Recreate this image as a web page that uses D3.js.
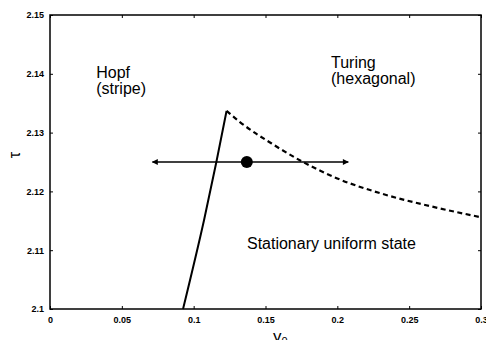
<!DOCTYPE html>
<html><head><meta charset="utf-8">
<script src="https://cdn.jsdelivr.net/npm/d3@7"></script>
<style>
html,body{margin:0;padding:0;background:#fff;}
svg{display:block;font-family:"Liberation Sans",Arial,sans-serif;}
</style></head>
<body>
<script>
// Data
const xTicks = [0, 0.05, 0.1, 0.15, 0.2, 0.25, 0.3];
const xTickLabels = ["0", "0.05", "0.1", "0.15", "0.2", "0.25", "0.3"];
const yTicks = [2.1, 2.11, 2.12, 2.13, 2.14, 2.15];
const yTickLabels = ["2.1", "2.11", "2.12", "2.13", "2.14", "2.15"];
const hopfGamma = [0.0926, 0.1072, 0.1158, 0.1229];
const hopfTau   = [2.1, 2.1151, 2.125, 2.1337];
const turingGamma = [0.1229, 0.1322, 0.1565, 0.1761, 0.2000, 0.2297, 0.2645, 0.3];
const turingTau   = [2.1337, 2.1318, 2.1278, 2.1250, 2.1222, 2.1197, 2.1175, 2.1156];
const arrowGamma = [0.0713, 0.2076];
const arrowTau = [2.125, 2.125];
const pointGamma = [0.137];
const pointTau = [2.125];
const regionLabels = [
  {lines: ["Hopf", "(stripe)"], g: 0.0322, t: 2.1393},
  {lines: ["Turing", "(hexagonal)"], g: 0.1956, t: 2.1410},
  {lines: ["Stationary uniform state"], g: 0.1371, t: 2.1102}
];

const W = 486, H = 340;
const m = {left: 50, right: 5, top: 15, bottom: 31};
const svg = d3.select("body").append("svg").attr("width", W).attr("height", H);

const x = d3.scaleLinear().domain([0, 0.3]).range([m.left, W - m.right]);
const y = d3.scaleLinear().domain([2.1, 2.15]).range([H - m.bottom, m.top]);

// Frame
svg.append("rect").attr("x", x(0)).attr("y", y(2.15))
  .attr("width", x(0.3) - x(0)).attr("height", y(2.1) - y(2.15))
  .attr("fill", "none").attr("stroke", "#000").attr("stroke-width", 1.5);

// Axes (inward ticks)
const fmtX = (d, i) => xTickLabels[i];
const fmtY = (d, i) => yTickLabels[i];
const axB = svg.append("g").attr("transform", `translate(0,${y(2.1)})`)
  .call(d3.axisBottom(x).tickValues(xTicks).tickFormat(fmtX).tickSizeInner(-3).tickSizeOuter(0).tickPadding(8));
const axT = svg.append("g").attr("transform", `translate(0,${y(2.15)})`)
  .call(d3.axisTop(x).tickValues(xTicks).tickFormat("").tickSizeInner(-3).tickSizeOuter(0));
const axL = svg.append("g").attr("transform", `translate(${x(0)},0)`)
  .call(d3.axisLeft(y).tickValues(yTicks).tickFormat(fmtY).tickSizeInner(-3).tickSizeOuter(0).tickPadding(6));
const axR = svg.append("g").attr("transform", `translate(${x(0.3)},0)`)
  .call(d3.axisRight(y).tickValues(yTicks).tickFormat("").tickSizeInner(-3).tickSizeOuter(0));
[axB, axT, axL, axR].forEach(a => {
  a.select(".domain").remove();
  a.selectAll("line").attr("stroke", "#000").attr("stroke-width", 1);
  a.selectAll("text").attr("font-size", 9).attr("font-weight", "bold")
    .attr("font-family", "Liberation Sans, Arial, sans-serif").attr("fill", "#000");
});

// Hopf line (solid)
const hopf = hopfGamma.map((g, i) => [g, hopfTau[i]]);
svg.append("path").datum(hopf)
  .attr("d", d3.line().x(d => x(d[0])).y(d => y(d[1])).curve(d3.curveMonotoneY))
  .attr("fill", "none").attr("stroke", "#000").attr("stroke-width", 2);

// Turing line (dashed)
const turing = turingGamma.map((g, i) => [g, turingTau[i]]);
svg.append("path").datum(turing)
  .attr("d", d3.line().x(d => x(d[0])).y(d => y(d[1])).curve(d3.curveMonotoneX))
  .attr("fill", "none").attr("stroke", "#000").attr("stroke-width", 2.2)
  .attr("stroke-dasharray", "5,3.5");

// Double arrow
const defs = svg.append("defs");
defs.append("marker").attr("id", "ah").attr("viewBox", "0 0 10 10")
  .attr("refX", 9).attr("refY", 5).attr("markerWidth", 9).attr("markerHeight", 6)
  .attr("markerUnits", "userSpaceOnUse").attr("orient", "auto-start-reverse")
  .append("path").attr("d", "M0,0 L10,5 L0,10 Z").attr("fill", "#000");
svg.append("line")
  .attr("x1", x(arrowGamma[0])).attr("y1", y(arrowTau[0]))
  .attr("x2", x(arrowGamma[1])).attr("y2", y(arrowTau[1]))
  .attr("stroke", "#000").attr("stroke-width", 1.6)
  .attr("marker-start", "url(#ah)").attr("marker-end", "url(#ah)");

// Point
svg.selectAll("circle.pt").data(pointGamma).enter().append("circle")
  .attr("cx", d => x(d)).attr("cy", (d, i) => y(pointTau[i])).attr("r", 6).attr("fill", "#000");

// Region labels
regionLabels.forEach(r => {
  const t = svg.append("text").attr("x", x(r.g)).attr("y", y(r.t))
    .attr("font-size", 16).attr("fill", "#000");
  r.lines.forEach((ln, i) => {
    t.append("tspan").attr("x", x(r.g)).attr("dy", i === 0 ? 0 : 16).text(ln);
  });
});

// Axis labels
svg.append("text").attr("transform", `translate(20,155) rotate(-90)`)
  .attr("text-anchor", "middle").attr("font-size", 16).attr("fill", "#000").text("τ");
const xl = svg.append("text").attr("x", 273).attr("y", 342).attr("font-size", 17).attr("fill", "#000");
xl.append("tspan").text("γ");
xl.append("tspan").attr("font-size", 11).attr("dy", 3).text("0");
</script>
</body></html>
